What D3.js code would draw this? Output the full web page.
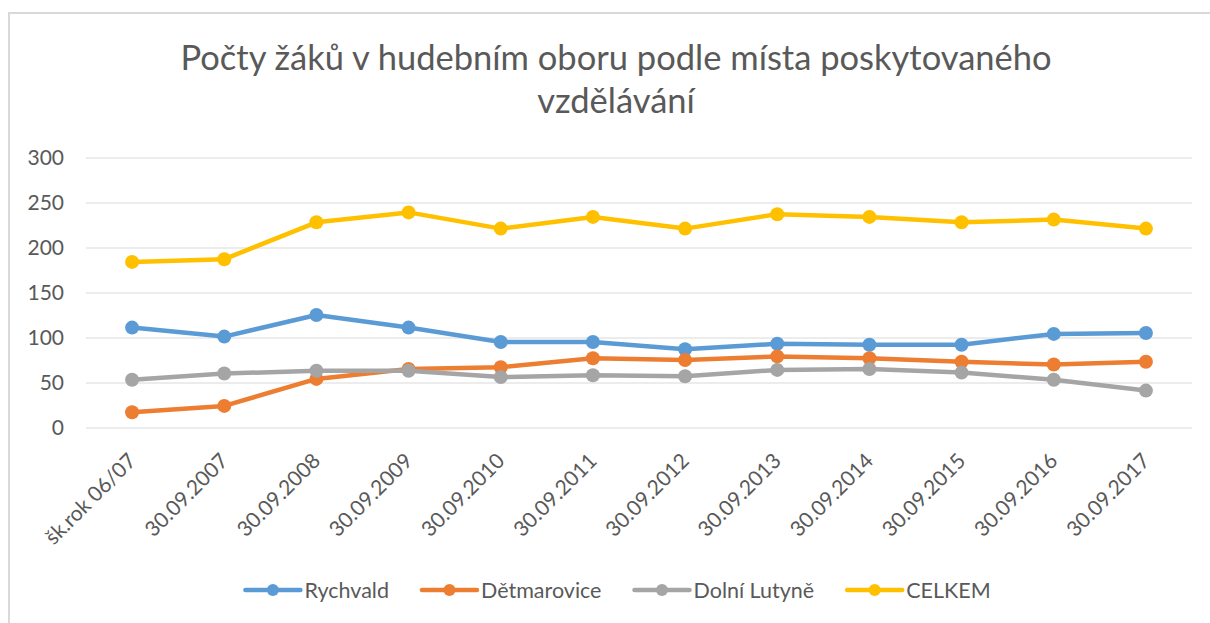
<!DOCTYPE html>
<html>
<head>
<meta charset="utf-8">
<script src="https://cdn.jsdelivr.net/npm/d3@7"></script>
<style>
  body { margin: 0; background: #fff; overflow: hidden; }
  svg { display: block; font-family: Lato, "Open Sans", sans-serif; }
</style>
</head>
<body>
<svg width="1210" height="623"></svg>
<script>
// data
const categories = ['šk.rok 06/07', '30.09.2007', '30.09.2008', '30.09.2009', '30.09.2010', '30.09.2011',
  '30.09.2012', '30.09.2013', '30.09.2014', '30.09.2015', '30.09.2016', '30.09.2017'];
const rychvald    = [111, 101, 125, 111, 95, 95, 87, 93, 92, 92, 104, 105];
const detmarovice = [17, 24, 54, 65, 67, 77, 75, 79, 77, 73, 70, 73];
const dolniLutyne = [53, 60, 63, 63, 56, 58, 57, 64, 65, 61, 53, 41];
const celkem      = [184, 187, 228, 239, 221, 234, 221, 237, 234, 228, 231, 221];
const seriesNames = ['Rychvald', 'Dětmarovice', 'Dolní Lutyně', 'CELKEM'];
const seriesColors = ['#5B9BD5', '#ED7D31', '#A5A5A5', '#FFC000'];
const yTicks = [0, 50, 100, 150, 200, 250, 300];
const titleLines = ['Počty žáků v hudebním oboru podle místa poskytovaného', 'vzdělávání'];

const series = [rychvald, detmarovice, dolniLutyne, celkem].map((vals, i) => ({
  name: seriesNames[i], color: seriesColors[i], values: vals
}));

const svg = d3.select('svg');
const textColor = '#595959';
const gridColor = '#d9d9d9';

// chart frame (right/bottom edges fall outside the picture)
svg.append('rect')
  .attr('x', 9).attr('y', 13)
  .attr('width', 1300).attr('height', 700)
  .attr('fill', '#fff')
  .attr('stroke', gridColor).attr('stroke-width', 2);

// title
svg.append('text')
  .attr('x', 616).attr('y', 70)
  .attr('text-anchor', 'middle')
  .attr('fill', textColor)
  .style('font-size', '34.5px')
  .selectAll('tspan')
  .data(titleLines)
  .join('tspan')
  .attr('x', 616)
  .attr('dy', (d, i) => i === 0 ? 0 : 43)
  .text(d => d);

const x = d3.scalePoint().domain(categories).range([86, 1192]).padding(0.5);
const y = d3.scaleLinear().domain([0, 300]).range([427.5, 157.5]);

// gridlines + y labels
const yAxis = svg.append('g')
  .attr('transform', 'translate(86,0)')
  .call(d3.axisLeft(y).tickValues(yTicks).tickSize(-1106).tickPadding(22));
yAxis.select('.domain').remove();
yAxis.selectAll('.tick line').attr('stroke', gridColor);
yAxis.selectAll('.tick text')
  .attr('fill', textColor)
  .style('font-size', '21px')
  .style('font-family', 'Lato, sans-serif');

// x labels
const xAxis = svg.append('g');
xAxis.selectAll('text')
  .data(categories)
  .join('text')
  .attr('transform', d => `translate(${x(d)},457) rotate(-45)`)
  .attr('text-anchor', 'end')
  .attr('dy', '0.35em')
  .attr('fill', textColor)
  .style('font-size', '21px')
  .text(d => d);

// lines and markers
const line = d3.line()
  .x((d, i) => x(categories[i]))
  .y(d => y(d));

series.forEach(s => {
  const g = svg.append('g');
  g.append('path')
    .datum(s.values)
    .attr('d', line)
    .attr('fill', 'none')
    .attr('stroke', s.color)
    .attr('stroke-width', 4.5)
    .attr('stroke-linejoin', 'round')
    .attr('stroke-linecap', 'round');
  g.selectAll('circle')
    .data(s.values)
    .join('circle')
    .attr('cx', (d, i) => x(categories[i]))
    .attr('cy', d => y(d))
    .attr('r', 7)
    .attr('fill', s.color);
});

// legend
const legend = svg.append('g');
const items = legend.selectAll('g')
  .data(series)
  .join('g');
items.append('line')
  .attr('x1', 0).attr('x2', 55)
  .attr('y1', 0).attr('y2', 0)
  .attr('stroke', d => d.color)
  .attr('stroke-width', 4.5)
  .attr('stroke-linecap', 'round');
items.append('circle')
  .attr('cx', 27.5).attr('cy', 0).attr('r', 6)
  .attr('fill', d => d.color);
items.append('text')
  .attr('x', 59).attr('dy', '0.35em')
  .attr('fill', textColor)
  .style('font-size', '21.5px')
  .text(d => d.name);

let offset = 0;
const starts = [];
items.each(function () {
  const w = 59 + this.querySelector('text').getComputedTextLength();
  starts.push(offset);
  offset += w + 33;
});
const total = offset - 33;
const startX = 618 - total / 2;
items.attr('transform', (d, i) => `translate(${startX + starts[i]},590)`);
</script>
</body>
</html>
